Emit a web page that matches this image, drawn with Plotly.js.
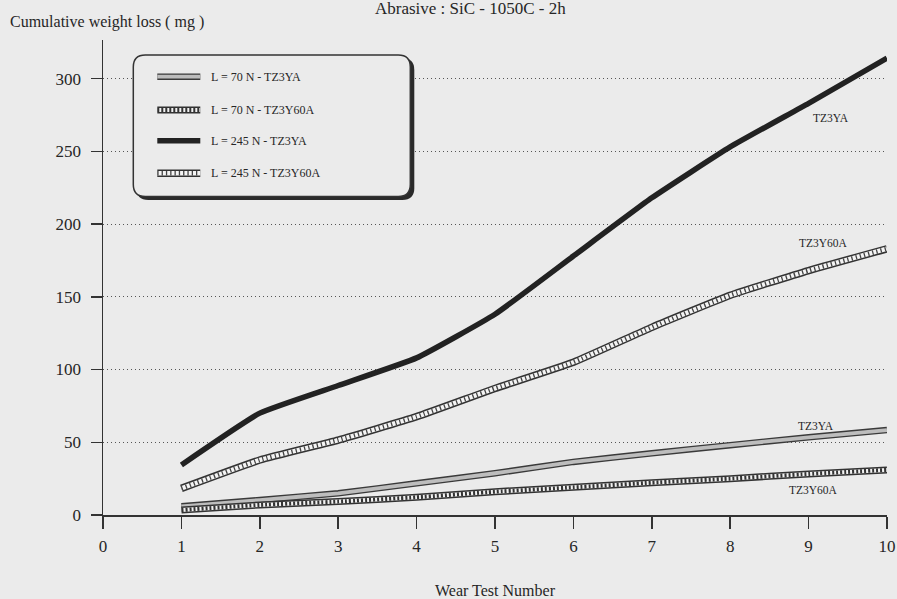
<!DOCTYPE html>
<html>
<head>
<meta charset="utf-8">
<script src="https://cdn.plot.ly/plotly-3.0.1.min.js"></script>
<style>html,body{margin:0;padding:0;background:#ebebeb;}#chart{width:897px;height:599px;}</style>
</head>
<body>
<div id="chart"></div>
<script>
// ---- data ----
const wearTests = [1, 2, 3, 4, 5, 6, 7, 8, 9, 10];
const loss70_TZ3YA    = [6, 10.3, 14.9, 21.8, 28.7, 36.5, 42.4, 48, 53.4, 58.4];
const loss70_TZ3Y60A  = [3.4, 6.9, 9.2, 12.2, 16, 19, 22.2, 25, 28.2, 31];
const loss245_TZ3YA   = [34.4, 70, 89, 108, 138, 178, 218, 253, 283, 314];
const loss245_TZ3Y60A = [18.3, 37.8, 51.5, 67.6, 87, 105, 129, 151, 168, 183];
const seriesNames = ['L = 70 N - TZ3YA', 'L = 70 N - TZ3Y60A', 'L = 245 N - TZ3YA', 'L = 245 N - TZ3Y60A'];
const endLabels = ['TZ3YA', 'TZ3Y60A', 'TZ3YA', 'TZ3Y60A'];
const xTickVals = [0, 1, 2, 3, 4, 5, 6, 7, 8, 9, 10];
const yTickVals = [0, 50, 100, 150, 200, 250, 300];

// ---- styles ----
const BG = '#ebebeb';
const INK = '#262626';
const FONT = 'Liberation Serif, Times New Roman, serif';
const seriesY = [loss70_TZ3YA, loss70_TZ3Y60A, loss245_TZ3YA, loss245_TZ3Y60A];
const layerStyles = [
  [{w: 6.5, c: '#3a3a3a'}, {w: 3.8, c: '#bdbdbd'}],
  [{w: 7, c: '#333'}, {w: 4, c: '#f2f2f2'}, {w: 4, c: '#333', dash: '2px,2px'}],
  [{w: 5.5, c: '#222'}],
  [{w: 7.5, c: '#333'}, {w: 4.5, c: '#f4f4f4'}, {w: 4.5, c: '#444', dash: '1.3px,3px'}]
];
// end label positions (data coords) near the line ends
const labelPos = [[9.1, 61.5], [9.06, 17.5], [9.29, 273], [9.19, 187]];

// layout geometry in px
const L = 102.7, T = 40, W = 784, H = 475;
const px = v => (v - L) / W;
const py = v => (T + H - v) / H;

const traces = [];
seriesY.forEach((ys, i) => {
  layerStyles[i].forEach(st => {
    traces.push({
      x: wearTests, y: ys, type: 'scatter', mode: 'lines',
      line: {color: st.c, width: st.w, dash: st.dash || 'solid', shape: 'spline', smoothing: 0.4},
      showlegend: false, hoverinfo: 'skip'
    });
  });
});

// custom rounded legend box
function roundRect(x0, y0, x1, y1, r) {
  const P = (a, b) => px(a) + ',' + py(b);
  return 'M' + P(x0 + r, y0) + ' L' + P(x1 - r, y0) + ' Q' + P(x1, y0) + ' ' + P(x1, y0 + r) +
    ' L' + P(x1, y1 - r) + ' Q' + P(x1, y1) + ' ' + P(x1 - r, y1) +
    ' L' + P(x0 + r, y1) + ' Q' + P(x0, y1) + ' ' + P(x0, y1 - r) +
    ' L' + P(x0, y0 + r) + ' Q' + P(x0, y0) + ' ' + P(x0 + r, y0) + ' Z';
}
const shapes = [
  {type: 'path', xref: 'paper', yref: 'paper', path: roundRect(136, 58, 414, 200, 12), fillcolor: '#2a2a2a', line: {width: 0}, layer: 'above'},
  {type: 'path', xref: 'paper', yref: 'paper', path: roundRect(133, 55, 410, 196.5, 12), fillcolor: BG, line: {color: '#333', width: 1.5}, layer: 'above'}
];
const rowsY = [76.7, 110, 140.7, 173.3];
const annotations = [];
seriesNames.forEach((name, i) => {
  layerStyles[i].forEach(st => {
    shapes.push({type: 'line', xref: 'paper', yref: 'paper', x0: px(157), x1: px(200), y0: py(rowsY[i]), y1: py(rowsY[i]),
      line: {color: st.c, width: st.w, dash: st.dash || 'solid'}, layer: 'above'});
  });
  annotations.push({xref: 'paper', yref: 'paper', x: px(209), y: py(rowsY[i]), xanchor: 'left', yanchor: 'middle',
    text: name, showarrow: false, font: {family: FONT, size: 12, color: INK}});
  annotations.push({xref: 'x', yref: 'y', x: labelPos[i][0], y: labelPos[i][1], xanchor: 'center', yanchor: 'middle',
    text: endLabels[i], showarrow: false, font: {family: FONT, size: 11.5, color: INK}});
});
annotations.push({xref: 'paper', yref: 'paper', x: px(8), y: py(22), xanchor: 'left', yanchor: 'middle',
  text: 'Cumulative weight loss ( mg )', showarrow: false, font: {family: FONT, size: 16, color: INK}});
annotations.push({xref: 'paper', yref: 'paper', x: px(470), y: py(9), xanchor: 'center', yanchor: 'middle',
  text: 'Abrasive : SiC - 1050C - 2h', showarrow: false, font: {family: FONT, size: 17, color: INK}});

const layout = {
  width: 897, height: 599,
  margin: {l: L, r: 897 - L - W, t: T, b: 599 - T - H, pad: 0},
  paper_bgcolor: BG, plot_bgcolor: BG,
  font: {family: FONT, color: INK, size: 17},
  showlegend: false,
  xaxis: {
    range: [0, 10], tickvals: xTickVals, ticktext: xTickVals.map(String),
    showline: true, linecolor: '#333', linewidth: 1.5,
    ticks: 'outside', ticklen: 12, tickwidth: 1.5, tickcolor: '#333',
    showgrid: false, zeroline: false, ticklabelstandoff: 3,
    tickfont: {family: FONT, size: 17, color: INK},
    title: {text: 'Wear Test Number', font: {family: FONT, size: 16, color: INK}, standoff: 30}
  },
  yaxis: {
    range: [0, 326.5], tickvals: yTickVals, ticktext: yTickVals.map(String),
    showline: true, linecolor: '#333', linewidth: 1.5,
    ticks: 'outside', ticklen: 11, tickwidth: 1.5, tickcolor: '#333',
    showgrid: true, gridcolor: '#555', gridwidth: 1, griddash: '1px,3px',
    zeroline: false, ticklabelstandoff: 6,
    tickfont: {family: FONT, size: 17, color: INK}
  },
  shapes: shapes,
  annotations: annotations
};

Plotly.newPlot('chart', traces, layout, {displayModeBar: false, staticPlot: true});
</script>
</body>
</html>
